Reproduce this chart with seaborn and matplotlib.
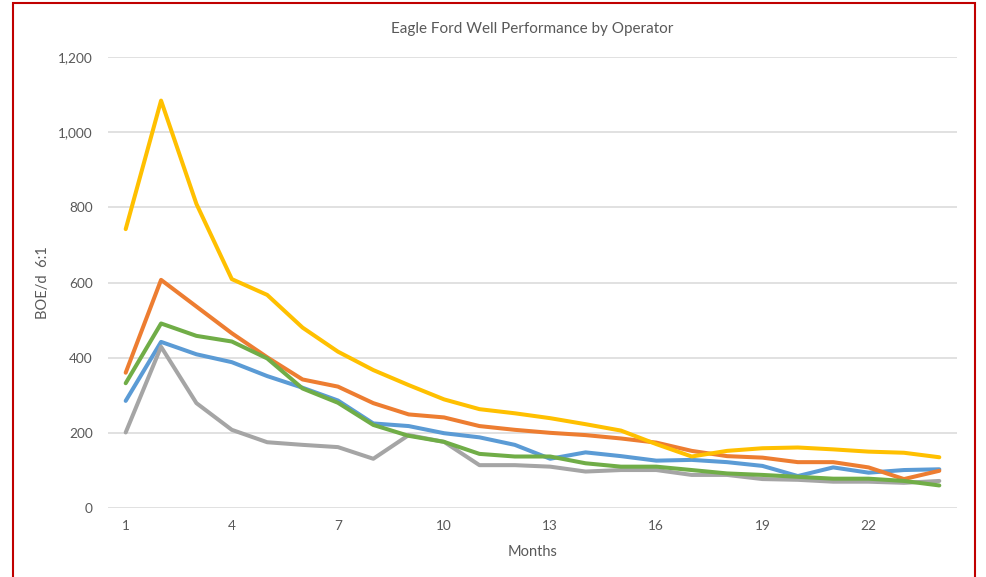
import numpy as np
import pandas as pd
import matplotlib
matplotlib.use("Agg")
import matplotlib.pyplot as plt
import seaborn as sns
from matplotlib.patches import Rectangle
from matplotlib.ticker import FuncFormatter

# -----------------------------------------------------------------------------
# Data (BOE/d, 6:1) by month

months = list(range(1, 25))

yellow = [742, 1084, 809, 609, 567, 480, 416, 367, 327, 289, 263, 252,
          239, 223, 206, 170, 137, 152, 159, 161, 156, 150, 147, 135]
orange = [360, 607, 536, 465, 401, 342, 323, 279, 249, 241, 218, 208,
          200, 194, 185, 174, 152, 138, 134, 122, 122, 108, 77, 99]
green = [332, 491, 458, 443, 398, 318, 280, 221, 192, 176, 144, 137,
         137, 119, 110, 110, 101, 92, 88, 83, 78, 78, 72, 60]
blue = [285, 442, 409, 388, 351, 320, 286, 225, 218, 199, 188, 168,
        131, 148, 138, 126, 128, 122, 112, 85, 108, 94, 101, 103]
gray = [201, 429, 279, 208, 175, 168, 162, 131, 194, 176, 114, 114,
        110, 97, 101, 101, 88, 88, 77, 75, 70, 70, 67, 72]

series_names = ["S1", "S2", "S3", "S4", "S5"]
series_vals = [blue, orange, gray, yellow, green]
series_cols = ["#5B9BD5", "#ED7D31", "#A5A5A5", "#FFC000", "#70AD47"]

xticks = [1, 4, 7, 10, 13, 16, 19, 22]
yticks = [0, 200, 400, 600, 800, 1000, 1200]

df = pd.DataFrame({"Month": months * len(series_names),
                   "Value": sum(series_vals, []),
                   "Operator": np.repeat(series_names, len(months))})

# -----------------------------------------------------------------------------
# Plot

sns.set_style("white")
plt.rcParams['font.family'] = ['Lato', 'DejaVu Sans']
txt = "#595959"

fig = plt.figure(figsize=(9.87, 5.77), dpi=100)
ax = fig.add_axes([108/987, 1 - 508/577, (957 - 108)/987, (508 - 57)/577])

sns.lineplot(data=df, x="Month", y="Value", hue="Operator",
             palette=dict(zip(series_names, series_cols)),
             hue_order=series_names, linewidth=2.9, legend=False, ax=ax)

ax.set_xlim(0.5, 24.5)
ax.set_ylim(0, 1200)
ax.set_xticks(xticks)
ax.set_yticks(yticks)
ax.yaxis.set_major_formatter(FuncFormatter(lambda v, p: f"{int(v):,}"))
ax.grid(axis="y", color="#D9D9D9", linewidth=1.1)
ax.set_axisbelow(True)
for s in ax.spines.values():
    s.set_visible(False)
ax.tick_params(axis="both", length=0, labelsize=9.8, colors=txt)
ax.tick_params(axis="x", pad=9)
ax.tick_params(axis="y", pad=11)

ax.set_xlabel("Months", fontsize=10.5, color=txt, labelpad=9)
ax.set_ylabel("BOE/d  6:1", fontsize=10.5, color=txt, labelpad=6)
ax.set_title("Eagle Ford Well Performance by Operator", fontsize=11,
             color=txt, pad=17)

# red chart frame
fig.patches.append(Rectangle((13/987, -0.05), (975 - 13)/987, 1 - 3/577 + 0.05,
                             transform=fig.transFigure, fill=False,
                             edgecolor="#C00000", linewidth=1.5))

fig.savefig("out.png", dpi=100)
